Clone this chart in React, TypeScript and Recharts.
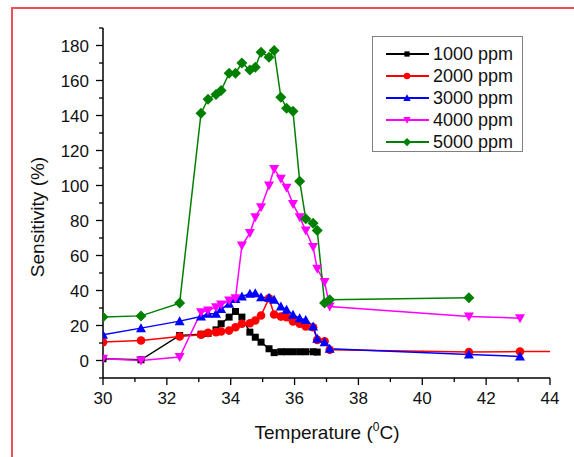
import React from 'react'
import { LineChart, Line, XAxis, YAxis } from 'recharts'

// temperatures measured in the sweep (°C)
const temps = [30, 31.19, 32.4, 33.07, 33.29, 33.54, 33.7, 33.95, 34.15, 34.35, 34.6, 34.77,
  34.95, 35.2, 35.36, 35.57, 35.75, 35.95, 36.16, 36.35, 36.58, 36.71, 36.94, 37.1]
const tailTemps = [41.46, 43.06, 45]

const s1000 = [1, 0.4, 14.3, 15, 15.5, 17.5, 21, 24.8, 28, 24.8, 16.2, 13.3,
  10.5, 6.7, 4.5, 5, 5, 5, 5, 5, 5, 4.8]
const s2000 = [10.5, 11.4, 13.7, 14.7, 15.8, 16.2, 16.6, 17.1, 19, 21, 21.3, 22.9,
  25.7, 35.6, 26.3, 25.1, 24.8, 22.3, 21, 19.4, 19, 11.8, 11, 6.1]
const s2000Tail = [4.8, 5.1, 5.2]
const s3000 = [14.7, 18.5, 22.5, 25.1, 26.7, 26.7, 29.5, 32.4, 35.2, 36.6, 38.1, 38.5,
  36.2, 35.8, 34.7, 30.9, 29, 26.1, 24.2, 23.2, 19.4, 12.4, 10.5, 6.7]
const s3000Tail = [3.4, 2.3]
const s4000 = [1, 0, 2, 27.6, 28.6, 30.5, 32, 34.3, 35.6, 65.7, 72.8, 81.9,
  87.6, 100, 109.5, 103.8, 98.7, 89.5, 81.9, 74.3, 64.8, 52.4, 44.8, 30.9]
const s4000Tail = [25.1, 24.2]
const s5000 = [24.8, 25.5, 32.8, 141.3, 149.3, 152, 154.3, 164.2, 164.2, 170, 166, 167.6,
  176.2, 173.3, 177.1, 150.5, 144.2, 142.5, 102.5, 81, 78.5, 74.3, 32.8, 34.7]
const s5000Tail = [35.8]

const xTicks = [30, 31, 32, 33, 34, 35, 36, 37, 38, 39, 40, 41, 42, 43, 44]
const yTicks = [-10, 0, 10, 20, 30, 40, 50, 60, 70, 80, 90, 100, 110, 120, 130, 140, 150, 160, 170, 180, 190]

const toPoints = (ys: number[], tail: number[] = []) => [
  ...ys.map((y, i) => ({ t: temps[i], v: y })),
  ...tail.map((y, i) => ({ t: tailTemps[i], v: y })),
]

const FONT = "'Liberation Sans', Arial, sans-serif"

type Shape = 'square' | 'circle' | 'triangle' | 'down' | 'diamond'

function Marker({ shape, color, cx, cy, k = 1 }: { shape: Shape; color: string; cx: number; cy: number; k?: number }) {
  if (shape === 'square') return <rect x={cx - 3.5 * k} y={cy - 3.5 * k} width={7 * k} height={7 * k} fill={color} />
  if (shape === 'circle') return <circle cx={cx} cy={cy} r={4.3 * k} fill={color} />
  if (shape === 'triangle') return <polygon points={`${cx},${cy - 5 * k} ${cx - 5 * k},${cy + 4 * k} ${cx + 5 * k},${cy + 4 * k}`} fill={color} />
  if (shape === 'down') return <polygon points={`${cx},${cy + 5 * k} ${cx - 5 * k},${cy - 4 * k} ${cx + 5 * k},${cy - 4 * k}`} fill={color} />
  return <polygon points={`${cx},${cy - 5.5 * k} ${cx + 5.5 * k},${cy} ${cx},${cy + 5.5 * k} ${cx - 5.5 * k},${cy}`} fill={color} />
}

const makeDot = (shape: Shape, color: string) => (p: any) => (
  <Marker key={`${shape}-${p.index}`} shape={shape} color={color} cx={p.cx} cy={p.cy} />
)

const XTick = (p: any) => {
  const major = p.payload.value % 2 === 0
  return (
    <g>
      <line x1={p.x} x2={p.x} y1={p.y} y2={p.y + (major ? 7 : 4)} stroke="#000" strokeWidth={1.3} />
      {major && (
        <text x={p.x} y={p.y + 26} textAnchor="middle" fontSize={17} fontFamily={FONT} fill="#111">
          {p.payload.value}
        </text>
      )}
    </g>
  )
}

const YTick = (p: any) => {
  const v = p.payload.value
  const major = v % 20 === 0 && v >= 0 && v <= 180
  return (
    <g>
      <line x1={p.x} x2={p.x - (major ? 7 : 4)} y1={p.y} y2={p.y} stroke="#000" strokeWidth={1.3} />
      {major && (
        <text x={p.x - 14} y={p.y + 6} textAnchor="end" fontSize={17} fontFamily={FONT} fill="#111">
          {v}
        </text>
      )}
    </g>
  )
}

const series = [
  { name: '1000 ppm', color: '#000000', shape: 'square' as Shape, data: toPoints(s1000) },
  { name: '2000 ppm', color: '#ff0000', shape: 'circle' as Shape, data: toPoints(s2000, s2000Tail) },
  { name: '3000 ppm', color: '#0000ff', shape: 'triangle' as Shape, data: toPoints(s3000, s3000Tail) },
  { name: '4000 ppm', color: '#ff00ff', shape: 'down' as Shape, data: toPoints(s4000, s4000Tail) },
  { name: '5000 ppm', color: '#008000', shape: 'diamond' as Shape, data: toPoints(s5000, s5000Tail) },
]

export default function App() {
  return (
    <div style={{ position: 'absolute', left: 0, top: 0, width: 574, height: 457, overflow: 'hidden', background: '#fff' }}>
      <div style={{
        position: 'absolute', left: 11, top: 7, width: 700, height: 600,
        borderLeft: '2px solid #ea5058', borderTop: '2px solid #ea5058',
      }} />
      <div style={{ position: 'absolute', left: 0, top: 0 }}>
        <LineChart width={574} height={457} margin={{ top: 28, right: 24, bottom: 19, left: 43 }}>
          <XAxis
            dataKey="t" type="number" domain={[30, 44]} ticks={xTicks} allowDataOverflow
            interval={0} tickSize={0} tickMargin={0} tickLine={false} tick={<XTick />}
            axisLine={{ stroke: '#000', strokeWidth: 1.5 }} height={60}
          />
          <YAxis
            type="number" domain={[-10, 190]} ticks={yTicks} allowDataOverflow
            interval={0} tickSize={0} tickMargin={0} tickLine={false} tick={<YTick />}
            axisLine={{ stroke: '#000', strokeWidth: 1.5 }} width={60}
          />
          {series.map(s => (
            <Line
              key={s.name} data={s.data} dataKey="v" name={s.name}
              stroke={s.color} strokeWidth={1.5} type="linear"
              dot={makeDot(s.shape, s.color)} activeDot={false}
              isAnimationActive={false}
            />
          ))}
        </LineChart>
      </div>

      {/* legend */}
      <div style={{
        position: 'absolute', left: 372, top: 36, width: 149, height: 114,
        border: '1px solid #808080', background: '#fff', fontFamily: FONT,
      }}>
        {series.map((s, i) => (
          <div key={s.name} style={{ position: 'absolute', left: 0, top: 6 + i * 22, height: 22, width: 149 }}>
            <svg width={60} height={22} style={{ position: 'absolute', left: 0, top: 0 }}>
              <line x1={13} x2={56} y1={11} y2={11} stroke={s.color} strokeWidth={1.8} />
              <Marker shape={s.shape} color={s.color} cx={34} cy={11} k={0.75} />
            </svg>
            <span style={{ position: 'absolute', left: 60, top: 0, fontSize: 18, lineHeight: '22px', color: '#111', whiteSpace: 'nowrap' }}>
              {s.name}
            </span>
          </div>
        ))}
      </div>

      {/* axis titles */}
      <div style={{
        position: 'absolute', left: 38, top: 217, transform: 'translate(-50%, -50%) rotate(-90deg)',
        fontFamily: FONT, fontSize: 19, color: '#111', whiteSpace: 'nowrap',
      }}>Sensitivity (%)</div>
      <div style={{
        position: 'absolute', left: 327, top: 432, transform: 'translate(-50%, -50%)',
        fontFamily: FONT, fontSize: 19, color: '#111', whiteSpace: 'nowrap',
      }}>Temperature (<sup style={{ fontSize: 12 }}>0</sup>C)</div>
    </div>
  )
}
